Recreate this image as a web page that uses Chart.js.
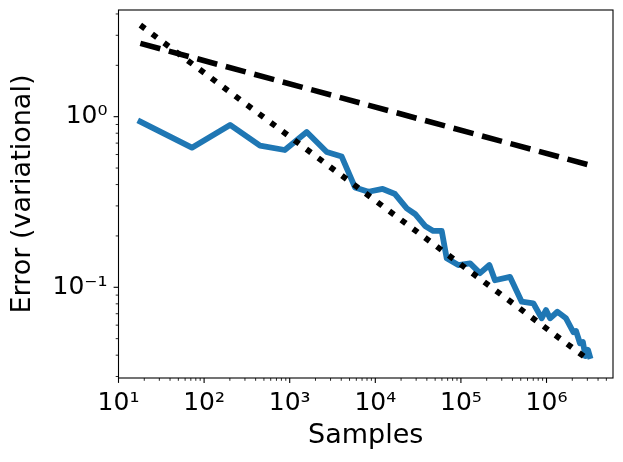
<!DOCTYPE html>
<html>
<head>
<meta charset="utf-8">
<script src="https://cdn.jsdelivr.net/npm/chart.js@4/dist/chart.umd.min.js"></script>
<style>
  body { margin: 0; background: #fff; }
  canvas { display: block; }
</style>
</head>
<body>
<canvas id="chart" width="623" height="462"></canvas>
<script>
// Målt feil (variasjonell) mot antall samples
const sampleCounts = [18, 72, 201, 450, 876, 1580, 2710, 4050, 5790, 8290,
  12200, 17000, 23300, 29100, 38100, 47600, 59700, 68200, 93200, 128000,
  167000, 215000, 250000, 375000, 513000, 701000, 880000, 986000, 1100000,
  1340000, 1690000, 2060000, 2210000, 2460000, 2660000, 2850000, 3050000, 3200000];
const errors = [0.935, 0.658, 0.894, 0.676, 0.638, 0.813, 0.621, 0.584, 0.385, 0.363,
  0.377, 0.352, 0.290, 0.269, 0.229, 0.214, 0.214, 0.148, 0.135, 0.138,
  0.121, 0.135, 0.110, 0.115, 0.0823, 0.0806, 0.0658, 0.0736, 0.0658,
  0.0719, 0.0658, 0.0545, 0.0555, 0.047, 0.0478, 0.0395, 0.0430, 0.0395];

// Referanselinjer (rette linjer i log-log)
const refSamples = [18, 3200000];
const slowRate = [2.69, 0.520];
const fastRate = [3.44, 0.0371];

// Akseområde og tick-etiketter
const xRange = [10, 5.98e6];
const yRange = [0.0294, 4.22];
const xTickValues = [10, 100, 1000, 10000, 100000, 1000000];
const xTickLabels = ["10¹", "10²", "10³", "10⁴", "10⁵", "10⁶"];
const yTickValues = [0.1, 1];
const yTickLabels = ["10⁻¹", "10⁰"];

const font = "'DejaVu Sans', sans-serif";

function toPoints(xs, ys) {
  return xs.map((x, i) => ({ x, y: ys[i] }));
}

function tickLabel(values, labels) {
  return (v) => {
    const i = values.findIndex((t) => Math.abs(Math.log10(t) - Math.log10(v)) < 1e-6);
    return i >= 0 ? labels[i] : "";
  };
}

// Ramme og tick-streker som i matplotlib (store og små ticks)
const axesFrame = {
  id: "axesFrame",
  afterDraw(c) {
    const { ctx, chartArea: a } = c;
    ctx.save();
    ctx.strokeStyle = "#000";
    const drawTicks = (scale, horizontal) => {
      const lo = Math.floor(Math.log10(scale.min));
      const hi = Math.ceil(Math.log10(scale.max));
      for (let d = lo; d <= hi; d++) {
        for (let k = 1; k <= 9; k++) {
          const v = k * Math.pow(10, d);
          if (v < scale.min * 0.9999 || v > scale.max * 1.0001) continue;
          const p = scale.getPixelForValue(v);
          const major = k === 1;
          const len = major ? 4.9 : 2.8;
          ctx.lineWidth = major ? 1.1 : 0.85;
          ctx.beginPath();
          if (horizontal) {
            ctx.moveTo(p, a.bottom);
            ctx.lineTo(p, a.bottom + len);
          } else {
            ctx.moveTo(a.left, p);
            ctx.lineTo(a.left - len, p);
          }
          ctx.stroke();
        }
      }
    };
    drawTicks(c.scales.x, true);
    drawTicks(c.scales.y, false);
    ctx.lineWidth = 1.1;
    ctx.strokeRect(a.left, a.top, a.right - a.left, a.bottom - a.top);
    ctx.restore();
  },
};

new Chart(document.getElementById("chart"), {
  type: "scatter",
  data: {
    datasets: [
      {
        data: toPoints(sampleCounts, errors),
        showLine: true,
        borderColor: "#1f77b4",
        borderWidth: 5.8,
        borderJoinStyle: "round",
        borderCapStyle: "square",
        pointRadius: 0,
        order: 3,
      },
      {
        data: toPoints(refSamples, slowRate),
        showLine: true,
        borderColor: "#000",
        borderWidth: 5.6,
        borderDash: [20.6, 8.9],
        borderCapStyle: "butt",
        pointRadius: 0,
        order: 2,
      },
      {
        data: toPoints(refSamples, fastRate),
        showLine: true,
        borderColor: "#000",
        borderWidth: 5.8,
        borderDash: [5.8, 9.0],
        borderCapStyle: "butt",
        pointRadius: 0,
        order: 1,
      },
    ],
  },
  options: {
    responsive: false,
    animation: false,
    layout: { padding: { top: 10, right: 10, left: 0, bottom: 0 } },
    plugins: { legend: { display: false }, tooltip: { enabled: false } },
    scales: {
      x: {
        type: "logarithmic",
        position: "bottom",
        min: xRange[0],
        max: xRange[1],
        grid: { display: false, drawTicks: false },
        border: { display: false },
        ticks: {
          autoSkip: false,
          maxRotation: 0,
          minRotation: 0,
          padding: 10,
          color: "#000",
          font: { family: font, size: 25, lineHeight: 1.2 },
          callback: tickLabel(xTickValues, xTickLabels),
        },
        title: {
          display: true,
          text: "Samples",
          color: "#000",
          font: { family: font, size: 27, lineHeight: 1 },
          padding: { top: 0, bottom: 12.8 },
        },
        afterFit(scale) {
          scale.height = 84;
          scale.paddingLeft = 0;
          scale.paddingRight = 0;
        },
      },
      y: {
        type: "logarithmic",
        min: yRange[0],
        max: yRange[1],
        grid: { display: false, drawTicks: false },
        border: { display: false },
        ticks: {
          autoSkip: false,
          padding: 11,
          color: "#000",
          font: { family: font, size: 25, lineHeight: 1.2 },
          callback: tickLabel(yTickValues, yTickLabels),
        },
        title: {
          display: true,
          text: "Error (variational)",
          color: "#000",
          font: { family: font, size: 27, lineHeight: 1 },
          padding: { top: 9.5, bottom: 0 },
        },
        afterFit(scale) {
          scale.width = 118.5;
          scale.paddingTop = 0;
          scale.paddingBottom = 0;
        },
      },
    },
  },
  plugins: [axesFrame],
});
</script>
</body>
</html>
